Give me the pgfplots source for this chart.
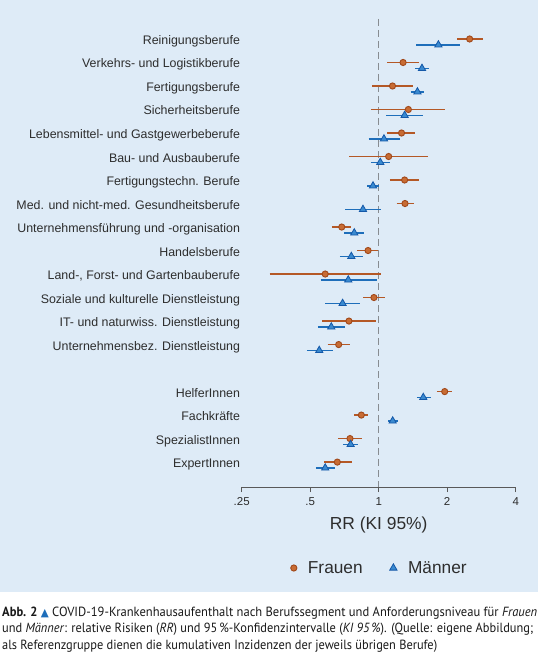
\documentclass[border=0pt]{standalone}
\usepackage{fontspec}
\setmainfont{Liberation Sans}
\newfontfamily\capfont{PT Sans}
\newfontfamily\symfont{DejaVu Sans}
\usepackage{graphicx}
\usepackage{pgfplots}
\pgfplotsset{compat=1.18}
\definecolor{bgblue}{RGB}{222,235,247}
\definecolor{fline}{RGB}{180,88,38}
\definecolor{ffill}{RGB}{200,108,52}
\definecolor{fedge}{RGB}{160,72,26}
\definecolor{mline}{RGB}{30,110,186}
\definecolor{mfill}{RGB}{58,138,208}
\definecolor{medge}{RGB}{20,88,168}
\definecolor{txt}{RGB}{45,45,45}
\definecolor{dashc}{RGB}{135,140,145}
\begin{document}
\begin{tikzpicture}[x=1pt,y=1pt]
\fill[white] (0,0) rectangle (540,-661);
\fill[bgblue] (0,0) rectangle (538,-592);
\begin{axis}[
  at={(241.7pt,-487pt)}, anchor=south west,
  scale only axis, width=274pt, height=468pt,
  xmode=log, log basis x=2, xmin=0.25, xmax=4,
  ymin=-19.06, ymax=0.85,
  axis x line=bottom, axis y line=left,
  x axis line style={-, draw=black!65, line width=0.9pt},
  y axis line style={draw=none},
  xtick={0.25,0.5,1,2,4}, xticklabels={.25,.5,1,2,4},
  xtick align=outside, major tick length=5pt,
  xtick style={draw=black!65, line width=0.9pt},
  xticklabel style={font=\fontsize{11.5}{13}\selectfont, text=txt, yshift=-2pt},
  ytick={0,-1,-2,-3,-4,-5,-6,-7,-8,-9,-10,-11,-12,-13,-15,-16,-17,-18},
  yticklabels={Reinigungsberufe,Verkehrs- und Logistikberufe,Fertigungsberufe,Sicherheitsberufe,Lebensmittel- und Gastgewerbeberufe,Bau- und Ausbauberufe,Fertigungstechn. Berufe,Med. und nicht-med. Gesundheitsberufe,Unternehmensführung und -organisation,Handelsberufe,{Land-, Forst- und Gartenbauberufe},Soziale und kulturelle Dienstleistung,IT- und naturwiss. Dienstleistung,Unternehmensbez. Dienstleistung,HelferInnen,Fachkräfte,SpezialistInnen,ExpertInnen},
  ytick style={draw=none},
  yticklabel style={font=\fontsize{12.4}{14}\selectfont, text=txt, anchor=base east, inner xsep=0pt, xshift=1pt, yshift=-5.5pt},
  xlabel={RR (KI 95\%)},
  xlabel style={at={(axis description cs:0.5,0)}, anchor=center, yshift=-38pt, font=\fontsize{17.4}{20}\selectfont, text=txt},
  clip=false,
  legend columns=2,
  legend style={at={(axis description cs:0.5,0)}, anchor=center, yshift=-81pt, xshift=1pt, draw=none, fill=none,
    font=\fontsize{17.3}{20}\selectfont, text=txt,
    /tikz/every odd column/.append style={column sep=9pt},
    /tikz/every even column/.append style={column sep=25pt}},
  legend image code/.code={\draw[#1] plot coordinates {(0pt,0pt)};},
]
% reference line
\addplot[dashc, line width=1.5pt, dash pattern=on 7pt off 4pt, forget plot] coordinates {(1,0.85) (1,-19.06)};
% Frauen CIs
\addplot[fline, line width=1.3pt, unbounded coords=jump, forget plot] coordinates {
(2.21,0) (2.86,0) (nan,nan)
(1.09,-1) (1.50,-1) (nan,nan)
(0.935,-2) (1.41,-2) (nan,nan)
(0.925,-3) (1.96,-3) (nan,nan)
(1.09,-4) (1.45,-4) (nan,nan)
(0.743,-5) (1.65,-5) (nan,nan)
(1.12,-6) (1.51,-6) (nan,nan)
(1.20,-7) (1.425,-7) (nan,nan)
(0.623,-8) (0.756,-8) (nan,nan)
(0.805,-9) (0.996,-9) (nan,nan)
(0.332,-10) (1.027,-10) (nan,nan)
(0.856,-11) (1.066,-11) (nan,nan)
(0.563,-12) (0.973,-12) (nan,nan)
(0.597,-13) (0.746,-13) (nan,nan)
(1.80,-15) (2.105,-15) (nan,nan)
(0.781,-16) (0.900,-16) (nan,nan)
(0.664,-17) (0.842,-17) (nan,nan)
(0.577,-18) (0.761,-18)
};
\addplot[only marks, mark=*, mark size=3.1pt, mark options={draw=fedge, fill=ffill, line width=0.9pt}, forget plot] coordinates {
(2.51,0) (1.28,-1) (1.15,-2) (1.35,-3) (1.26,-4) (1.106,-5) (1.30,-6) (1.305,-7)
(0.688,-8) (0.898,-9) (0.582,-10) (0.953,-11) (0.740,-12) (0.667,-13)
(1.95,-15) (0.839,-16) (0.748,-17) (0.658,-18)
};
% Maenner CIs
\addplot[mline, line width=1.3pt, unbounded coords=jump, forget plot] coordinates {
(1.46,-0.25) (2.28,-0.25) (nan,nan)
(1.45,-1.25) (1.66,-1.25) (nan,nan)
(1.38,-2.25) (1.58,-2.25) (nan,nan)
(1.08,-3.25) (1.57,-3.25) (nan,nan)
(0.904,-4.25) (1.24,-4.25) (nan,nan)
(0.925,-5.25) (1.12,-5.25) (nan,nan)
(0.889,-6.25) (1.003,-6.25) (nan,nan)
(0.713,-7.25) (1.02,-7.25) (nan,nan)
(0.706,-8.25) (0.859,-8.25) (nan,nan)
(0.676,-9.25) (0.850,-9.25) (nan,nan)
(0.556,-10.25) (0.980,-10.25) (nan,nan)
(0.582,-11.25) (0.825,-11.25) (nan,nan)
(0.541,-12.25) (0.709,-12.25) (nan,nan)
(0.484,-13.25) (0.630,-13.25) (nan,nan)
(1.47,-15.25) (1.69,-15.25) (nan,nan)
(1.10,-16.25) (1.22,-16.25) (nan,nan)
(0.699,-17.25) (0.808,-17.25) (nan,nan)
(0.530,-18.25) (0.641,-18.25)
};
\addplot[only marks, mark=triangle*, mark size=4.2pt, mark options={draw=medge, fill=mfill, line width=0.8pt}, forget plot] coordinates {
(1.83,-0.25) (1.55,-1.25) (1.48,-2.25) (1.30,-3.25) (1.055,-4.25) (1.016,-5.25) (0.944,-6.25) (0.853,-7.25)
(0.781,-8.25) (0.758,-9.25) (0.735,-10.25) (0.694,-11.25) (0.619,-12.25) (0.548,-13.25)
(1.57,-15.25) (1.152,-16.25) (0.753,-17.25) (0.582,-18.25)
};
\addlegendimage{only marks, mark=*, mark size=3.1pt, mark options={draw=fedge, fill=ffill, line width=0.9pt}}
\addlegendentry{Frauen}
\addlegendimage{only marks, mark=triangle*, mark size=4.2pt, mark options={draw=medge, fill=mfill, line width=0.8pt}}
\addlegendentry{Männer}
\end{axis}
% caption
\node[anchor=base west, inner sep=0pt] at (2,-616) {\resizebox{535pt}{\height}{\capfont\fontsize{13.3}{15}\selectfont\color{black!90}\textbf{Abb. 2} {\color{mline}\symfont\fontsize{11}{12}\selectfont ▲} COVID-19-Krankenhausaufenthalt nach Berufssegment und Anforderungsniveau für \textit{Frauen}}};
\node[anchor=base west, inner sep=0pt] at (2,-632.5) {\resizebox{531pt}{\height}{\capfont\fontsize{13.3}{15}\selectfont\color{black!90}und \textit{Männer}: relative Risiken (\textit{RR}) und 95\,\%-Konfidenzintervalle (\textit{KI 95\,\%}). (Quelle: eigene Abbildung;}};
\node[anchor=base west, inner sep=0pt] at (2,-649) {\resizebox{435pt}{\height}{\capfont\fontsize{13.3}{15}\selectfont\color{black!90}als Referenzgruppe dienen die kumulativen Inzidenzen der jeweils übrigen Berufe)}};
\end{tikzpicture}
\end{document}
